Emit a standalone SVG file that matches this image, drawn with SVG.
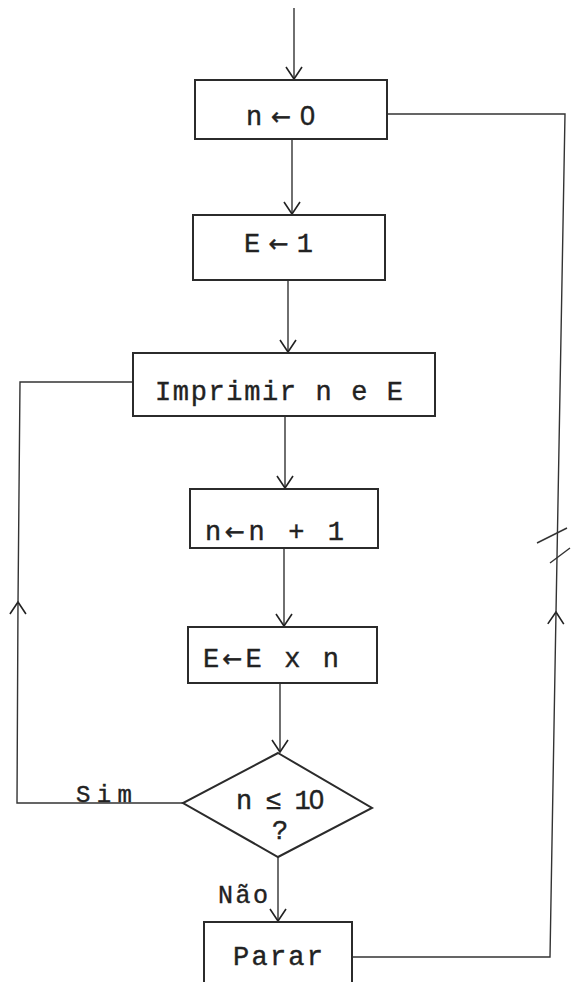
<svg xmlns="http://www.w3.org/2000/svg" width="571" height="982" viewBox="0 0 571 982">
<defs>
<style>
.box{fill:#fff;stroke:#2b2b2b;stroke-width:2}
.conn{fill:none;stroke:#333;stroke-width:1.4}
.lbl{font-family:"Liberation Mono","DejaVu Sans Mono",monospace;font-size:27px;fill:#222;stroke:#222;stroke-width:0.4}
.ar{font-family:"DejaVu Sans",sans-serif;font-size:24px}
.z{font-family:"Liberation Sans",sans-serif}
</style>
<marker id="arr" markerUnits="userSpaceOnUse" markerWidth="16" markerHeight="18" viewBox="0 0 16 18" refX="13" refY="9" orient="auto">
<path d="M1,1 L13,9 L1,17" fill="none" stroke="#222" stroke-width="1.6"/>
</marker>
</defs>
<rect width="571" height="982" fill="#fff"/>
<g id="connectors">
<path class="conn" d="M294,8 L294,79" marker-end="url(#arr)"/>
<path class="conn" d="M292,139 L292,214" marker-end="url(#arr)"/>
<path class="conn" d="M288,281 L288,352" marker-end="url(#arr)"/>
<path class="conn" d="M285,416 L285,488" marker-end="url(#arr)"/>
<path class="conn" d="M284,548 L284,626" marker-end="url(#arr)"/>
<path class="conn" d="M280,683 L280,752" marker-end="url(#arr)"/>
<path class="conn" d="M278,857 L278,921" marker-end="url(#arr)"/>
<path class="conn" d="M183,803 L17,803 L18,602" marker-end="url(#arr)"/>
<path class="conn" d="M18,603 L20,382 L133,382"/>
<path class="conn" d="M352,957 L550,957 L556,612" marker-end="url(#arr)"/>
<path class="conn" d="M556,613 L565,114 L387,114"/>
<path class="conn" d="M537,543 L567,528 M550,563 L570,548"/>
<text class="lbl" x="76" y="802" textLength="56" lengthAdjust="spacing" style="font-size:24px">Sim</text>
<text class="lbl" x="218" y="903" textLength="50" lengthAdjust="spacing" style="font-size:25px">Não</text>
</g>
<g id="n0">
<rect class="box" x="195" y="80" width="192" height="59"/>
<text class="lbl" x="246" y="125" textLength="69" lengthAdjust="spacing">n<tspan class="ar">←</tspan><tspan class="z">0</tspan></text>
</g>
<g id="e1">
<rect class="box" x="193" y="215" width="192" height="65"/>
<text class="lbl" x="244" y="252" textLength="69" lengthAdjust="spacing">E<tspan class="ar">←</tspan>1</text>
</g>
<g id="imprimir">
<rect class="box" x="133" y="353" width="302" height="63"/>
<text class="lbl" x="155" y="400" textLength="248" lengthAdjust="spacing">Imprimir n e E</text>
</g>
<g id="incr">
<rect class="box" x="190" y="489" width="188" height="59"/>
<text class="lbl" x="205" y="540" textLength="139" lengthAdjust="spacing">n<tspan class="ar">←</tspan>n + 1</text>
</g>
<g id="mult">
<rect class="box" x="188" y="627" width="189" height="56"/>
<text class="lbl" x="203" y="667" textLength="136" lengthAdjust="spacing">E<tspan class="ar">←</tspan>E x n</text>
</g>
<g id="decisao">
<path class="box" d="M278,753 L372,808 L278,857 L183,803 Z"/>
<text class="lbl" x="236" y="809" textLength="88" lengthAdjust="spacing">n ≤ 1<tspan class="z">0</tspan></text>
<text class="lbl" x="280" y="839" text-anchor="middle">?</text>
</g>
<g id="parar">
<rect class="box" x="204" y="922" width="148" height="70"/>
<text class="lbl" x="233" y="965" textLength="90" lengthAdjust="spacing">Parar</text>
</g>
</svg>
